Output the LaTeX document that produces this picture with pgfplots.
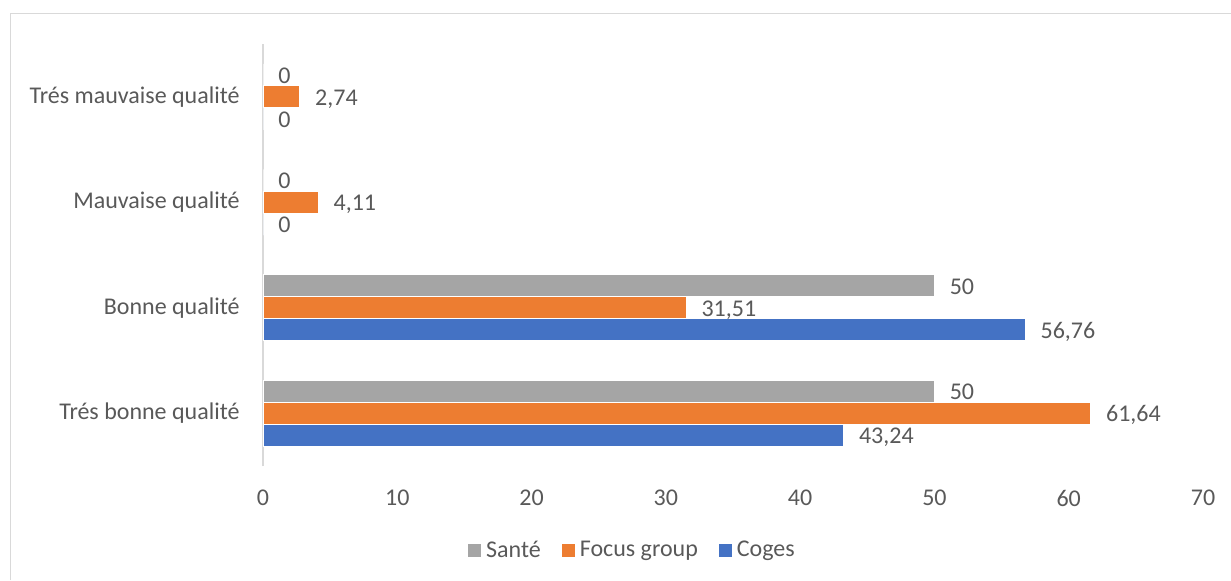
\documentclass[border=0pt,12pt]{standalone}
\usepackage{fontspec}
\setmainfont{Carlito}
\usepackage{pgfplots}
\pgfplotsset{compat=1.18}
\definecolor{cgray}{HTML}{A5A5A5}
\definecolor{corange}{HTML}{ED7D31}
\definecolor{cblue}{HTML}{4472C4}
\definecolor{txtgray}{HTML}{595959}
\definecolor{lgray}{HTML}{D9D9D9}
\begin{document}
\begin{tikzpicture}
\useasboundingbox (0,0) rectangle (615.5pt,290pt);
\draw[lgray, line width=0.8pt] (5.25pt,0) -- (5.25pt,283.25pt) -- (615.5pt,283.25pt);
\begin{axis}[
  at={(131.5pt,57pt)}, anchor=south west,
  scale only axis, width=470pt, height=211pt,
  xmin=0, xmax=70, ymin=-0.5, ymax=3.5,
  xtick={0,10,...,70},
  ytick={0,1,2,3},
  yticklabels={Trés bonne qualité, Bonne qualité, Mauvaise qualité, Trés mauvaise qualité},
  axis lines*=left,
  x axis line style={draw=none},
  y axis line style={draw=lgray, line width=0.9pt},
  tick style={draw=none},
  major tick length=0pt,
  /pgf/number format/assume math mode=true,
  /pgf/number format/use comma,
  /pgf/number format/fixed,
  /pgf/number format/precision=2,
  /pgf/number format/1000 sep={},
  xticklabel style={inner sep=0pt, anchor=north, yshift=-12pt, text=txtgray},
  yticklabel style={inner sep=0pt, anchor=east, xshift=-11.5pt, text=txtgray},
  xbar, bar width=11pt,
  point meta=x,
  nodes near coords,
  nodes near coords style={anchor=base west, inner sep=0pt, xshift=7.5pt, yshift=-0.35em, text=txtgray},
  every axis plot/.append style={draw=white, line width=0.4pt},
  legend columns=3,
  legend style={draw=none, fill=none, at={(0.392,-0.2014)}, anchor=center,
    inner sep=0pt, nodes={inner sep=0pt, text=txtgray},
    /tikz/every odd column/.append style={column sep=2.5pt},
    /tikz/every even column/.append style={column sep=10.5pt}},
  legend image code/.code={\fill[#1, draw=none] (0pt,-3.25pt) rectangle (6.5pt,3.25pt);},
]
\addplot[fill=cgray, bar shift=11pt] coordinates {(50,0) (50,1) (0,2) (0,3)};
\addplot[fill=corange, bar shift=0pt] coordinates {(61.64,0) (31.51,1) (4.11,2) (2.74,3)};
\addplot[fill=cblue, bar shift=-11pt] coordinates {(43.24,0) (56.76,1) (0,2) (0,3)};
\legend{Santé, Focus group, Coges}
\end{axis}
\end{tikzpicture}
\end{document}
